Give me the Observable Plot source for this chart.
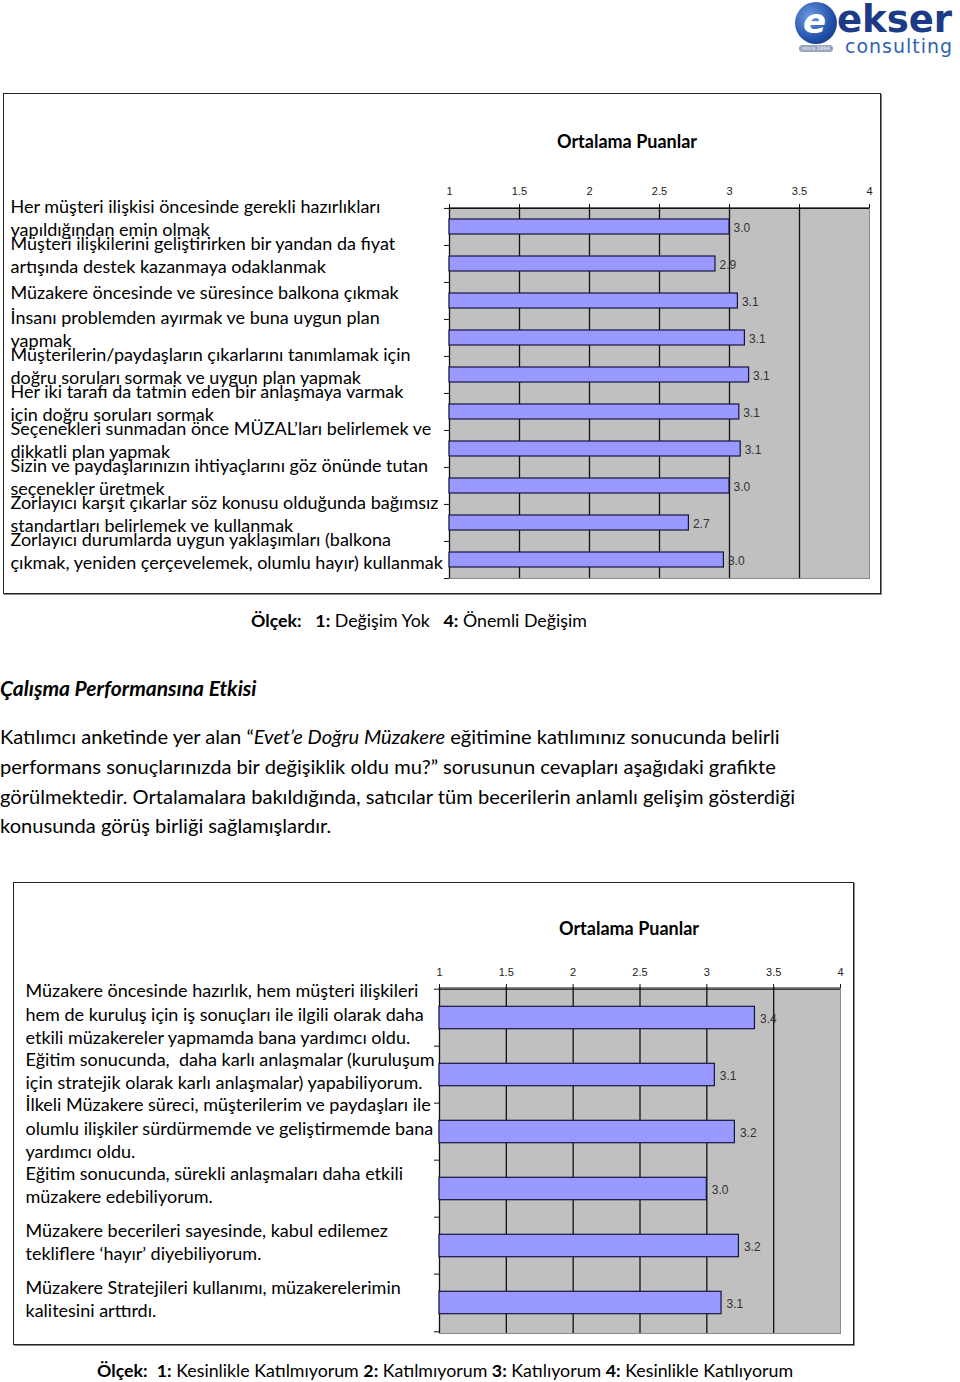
<!DOCTYPE html>
<html>
<head>
<meta charset="utf-8">
<script src="https://cdn.jsdelivr.net/npm/d3@7"></script>
<script src="https://cdn.jsdelivr.net/npm/@observablehq/plot@0.6"></script>
<style>
  html, body { margin: 0; padding: 0; background: #fff; }
  body { position: relative; width: 960px; height: 1382px; overflow: hidden; font-family: Lato, "Open Sans", sans-serif; color: #000; }
  .abs { position: absolute; }
  .frame { position: absolute; border: 1px solid #222; box-sizing: border-box; box-shadow: 1px 1px 0 #888; }
  .ctitle { position: absolute; font-weight: bold; font-size: 18px; line-height: 20px; white-space: nowrap; }
  .scale { position: absolute; font-size: 17.8px; line-height: 22px; white-space: nowrap; }
  .heading { position: absolute; left: 0; top: 673px; font-size: 21px; line-height: 30px; font-weight: bold; font-style: italic; white-space: nowrap; }
  .para { position: absolute; left: 0; top: 722px; font-size: 20.1px; line-height: 29.8px; white-space: nowrap; }
  #logo { position: absolute; left: 793px; top: 0px; width: 167px; height: 58px; }
</style>
</head>
<body>

<div id="logo">
  <div class="abs" style="left:2px;top:2px;width:42px;height:42px;border-radius:50%;background:radial-gradient(circle at 35% 35%, #6f9be0, #1f4fa8 60%, #142f73);"></div>
  <div class="abs" style="left:10px;top:0px;font-family:'DejaVu Sans';font-weight:bold;font-style:italic;font-size:34px;color:#fff;line-height:42px;">e</div>
  <div class="abs" style="left:44px;top:0px;font-family:'DejaVu Sans';font-weight:bold;font-size:37px;line-height:40px;color:#1d3a86;letter-spacing:0px;">ekser</div>
  <div class="abs" style="left:52px;top:36px;font-family:'DejaVu Sans';font-size:19px;line-height:20px;color:#2f62b0;letter-spacing:1px;">consulting</div>
  <div class="abs" style="left:6px;top:45px;width:34px;height:7px;border-radius:4px;background:#9aa6bf;font-size:5px;line-height:7px;color:#fff;text-align:center;font-family:'DejaVu Sans';">since 1994</div>
</div>

<div class="frame" style="left:3px;top:93px;width:878px;height:501px;"></div>
<div class="ctitle" style="left:557px;top:131px;">Ortalama Puanlar</div>
<div id="chart1" class="abs" style="left:4px;top:160px;"></div>

<div class="scale" style="left:251px;top:609px;"><b>Ölçek:</b>&nbsp;&nbsp; <b>1:</b> Değişim Yok &nbsp; <b>4:</b> Önemli Değişim</div>

<div class="heading">Çalışma Performansına Etkisi</div>
<div class="para">Katılımcı anketinde yer alan “<i>Evet’e Doğru Müzakere</i> eğitimine katılımınız sonucunda belirli<br>performans sonuçlarınızda bir değişiklik oldu mu?” sorusunun cevapları aşağıdaki grafikte<br>görülmektedir. Ortalamalara bakıldığında, satıcılar tüm becerilerin anlamlı gelişim gösterdiği<br>konusunda görüş birliği sağlamışlardır.</div>

<div class="frame" style="left:13px;top:882px;width:841px;height:463px;"></div>
<div class="ctitle" style="left:559px;top:918px;">Ortalama Puanlar</div>
<div id="chart2" class="abs" style="left:14px;top:950px;"></div>

<div class="scale" style="left:97px;top:1359px;"><b>Ölçek:</b>&nbsp; <b>1:</b> Kesinlikle Katılmıyorum <b>2:</b> Katılmıyorum <b>3:</b> Katılıyorum <b>4:</b> Kesinlikle Katılıyorum</div>

<script>
// ---- Data ----
const skills1 = [
  "Her müşteri ilişkisi öncesinde gerekli hazırlıkları\nyapıldığından emin olmak",
  "Müşteri ilişkilerini geliştirirken bir yandan da fiyat\nartışında destek kazanmaya odaklanmak",
  "Müzakere öncesinde ve süresince balkona çıkmak",
  "İnsanı problemden ayırmak ve buna uygun plan\nyapmak",
  "Müşterilerin/paydaşların çıkarlarını tanımlamak için\ndoğru soruları sormak ve uygun plan yapmak",
  "Her iki tarafı da tatmin eden bir anlaşmaya varmak\niçin doğru soruları sormak",
  "Seçenekleri sunmadan önce MÜZAL’ları belirlemek ve\ndikkatli plan yapmak",
  "Sizin ve paydaşlarınızın ihtiyaçlarını göz önünde tutan\nseçenekler üretmek",
  "Zorlayıcı karşıt çıkarlar söz konusu olduğunda bağımsız\nstandartları belirlemek ve kullanmak",
  "Zorlayıcı durumlarda uygun yaklaşımları (balkona\nçıkmak, yeniden çerçevelemek, olumlu hayır) kullanmak"
];
const scores1 = [3.0, 2.9, 3.06, 3.11, 3.14, 3.07, 3.08, 3.0, 2.71, 2.96];

const skills2 = [
  "Müzakere öncesinde hazırlık, hem müşteri ilişkileri\nhem de kuruluş için iş sonuçları ile ilgili olarak daha\netkili müzakereler yapmamda bana yardımcı oldu.",
  "Eğitim sonucunda,  daha karlı anlaşmalar (kuruluşum\niçin stratejik olarak karlı anlaşmalar) yapabiliyorum.",
  "İlkeli Müzakere süreci, müşterilerim ve paydaşları ile\nolumlu ilişkiler sürdürmemde ve geliştirmemde bana\nyardımcı oldu.",
  "Eğitim sonucunda, sürekli anlaşmaları daha etkili\nmüzakere edebiliyorum.",
  "Müzakere becerileri sayesinde, kabul edilemez\ntekliflere ‘hayır’ diyebiliyorum.",
  "Müzakere Stratejileri kullanımı, müzakerelerimin\nkalitesini arttırdı."
];
const scores2 = [3.36, 3.06, 3.21, 3.0, 3.24, 3.11];

const xTicks = [1, 1.5, 2, 2.5, 3, 3.5, 4];
const gridTicks = [1.5, 2, 2.5, 3, 3.5];

function makeChart(cats, vals, cfg) {
  const data = cats.map((c, i) => ({label: c, value: vals[i]}));
  const plotH = cfg.height - cfg.marginTop - cfg.marginBottom;
  const bw = plotH / cats.length;
  const pxPerUnit = (cfg.width - cfg.marginLeft - cfg.marginRight) / 3;
  const tickLen = 5 / pxPerUnit;
  return Plot.plot({
    width: cfg.width,
    height: cfg.height,
    marginLeft: cfg.marginLeft,
    marginRight: cfg.marginRight,
    marginTop: cfg.marginTop,
    marginBottom: cfg.marginBottom,
    style: {fontFamily: "'Liberation Sans', Arial, sans-serif", fontSize: "11px", color: "#222", background: "transparent", overflow: "visible"},
    x: {domain: [1, 4], axis: null, label: null},
    y: {domain: cats, padding: 0, axis: null, label: null},
    marks: [
      Plot.frame({fill: "#c0c0c0", stroke: "#8a8a8a"}),
      Plot.ruleX(gridTicks, {stroke: "#111", strokeWidth: 1.3}),
      Plot.ruleX([1], {stroke: "#111", strokeWidth: 1.3}),
      // top axis line
      Plot.ruleY([cats[0]], {x1: 1, x2: 4, dy: -bw / 2, stroke: "#111", strokeWidth: 1.2}),
      // left category boundary ticks
      Plot.ruleY(cats, {x1: 1 - tickLen, x2: 1, dy: -bw / 2, stroke: "#111"}),
      Plot.ruleY([cats[cats.length - 1]], {x1: 1 - tickLen, x2: 1, dy: bw / 2, stroke: "#111"}),
      Plot.axisX({anchor: "top", label: null, ticks: xTicks, tickSize: 4, tickPadding: cfg.tickPadding, tickFormat: d => String(d), fill: "#222", stroke: "#111"}),
      Plot.barX(data, {x1: 1, x2: "value", y: "label", fill: "#9999ff", stroke: "#141440", strokeWidth: 1.2, insetTop: cfg.inset, insetBottom: cfg.inset}),
      Plot.text(data, {x: "value", y: "label", text: d => d3.format(".1f")(d.value), dx: cfg.valueDx, dy: 1, textAnchor: "start", fill: "#333", fontSize: 12}),
      Plot.text(data, {y: "label", text: "label", frameAnchor: "left", dx: cfg.labelDx, dy: cfg.labelDy, textAnchor: "start", lineAnchor: "middle", lineHeight: 1.3, fontFamily: "Lato, 'Open Sans', sans-serif", fontSize: 18, fill: "#000"})
    ]
  });
}

document.getElementById("chart1").append(makeChart(skills1, scores1, {
  width: 877, height: 430, marginLeft: 445, marginRight: 12, marginTop: 47, marginBottom: 12,
  inset: 11, valueDx: 4, labelDx: -439, labelDy: -10, tickPadding: 9
}));

document.getElementById("chart2").append(makeChart(skills2, scores2, {
  width: 838, height: 390, marginLeft: 425, marginRight: 12, marginTop: 37, marginBottom: 7,
  inset: 17.3, valueDx: 5, labelDx: -414, labelDy: -5, tickPadding: 8
}));
</script>
</body>
</html>
